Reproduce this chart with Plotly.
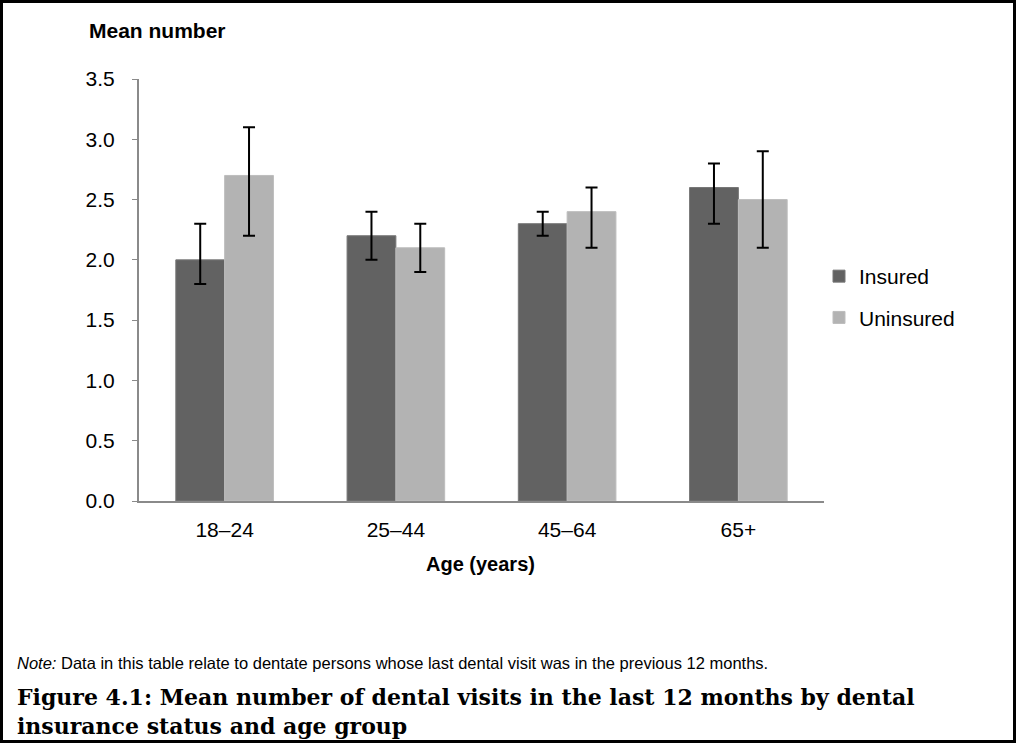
import plotly.graph_objects as go

categories = ["18–24", "25–44", "45–64", "65+"]
insured = [2.0, 2.2, 2.3, 2.6]
insured_plus = [0.3, 0.2, 0.1, 0.2]
insured_minus = [0.2, 0.2, 0.1, 0.3]
uninsured = [2.7, 2.1, 2.4, 2.5]
uninsured_plus = [0.4, 0.2, 0.2, 0.4]
uninsured_minus = [0.5, 0.2, 0.3, 0.4]
y_ticks = [0.0, 0.5, 1.0, 1.5, 2.0, 2.5, 3.0, 3.5]

W, H = 1017, 744
L, R, T, B = 139, 824, 79, 501


def px(x):
    return (x - L) / (R - L)


def py(y):
    return (B - y) / (B - T)


SANS = "Liberation Sans, Arial, sans-serif"

fig = go.Figure()
fig.add_trace(go.Bar(
    x=categories, y=insured, name="Insured", legendgroup="a",
    marker=dict(color="#626262", line=dict(color="#777777", width=1)),
    error_y=dict(type="data", symmetric=False, array=insured_plus,
                 arrayminus=insured_minus, color="black", thickness=2, width=6),
))
fig.add_trace(go.Bar(
    x=categories, y=uninsured, name="Uninsured", legendgroup="b",
    marker=dict(color="#b3b3b3", line=dict(color="#bdbdbd", width=1)),
    error_y=dict(type="data", symmetric=False, array=uninsured_plus,
                 arrayminus=uninsured_minus, color="black", thickness=2, width=6),
))

fig.update_layout(
    width=W, height=H,
    margin=dict(l=L, r=W - R, t=T, b=H - B, autoexpand=False),
    paper_bgcolor="white", plot_bgcolor="white",
    barmode="group", bargap=0.43, bargroupgap=0.0,
    font=dict(family=SANS, color="black", size=21),
    showlegend=True,
    legend=dict(x=px(819), y=py(256), xanchor="left", yanchor="top",
                font=dict(family=SANS, size=21, color="black"),
                traceorder="grouped", tracegroupgap=11, itemwidth=30,
                bgcolor="rgba(0,0,0,0)"),
    xaxis=dict(showline=True, linecolor="#8a8a8a", linewidth=2, ticks="",
               showgrid=False, tickfont=dict(size=21, color="black"),
               zeroline=False, ticklabelstandoff=9),
    yaxis=dict(range=[0, 3.5], tickvals=y_ticks, tickformat=".1f",
               showline=True, linecolor="#8a8a8a", linewidth=2,
               ticks="outside", ticklen=5, tickcolor="#8a8a8a", tickwidth=1,
               showgrid=False, zeroline=False, ticklabelstandoff=13,
               tickfont=dict(size=21, color="black")),
)

annotations = [
    dict(text="<b>Mean number</b>", x=px(157), y=py(30), xanchor="center",
         yanchor="middle", font=dict(size=21, family=SANS)),
    dict(text="<b>Age (years)</b>", x=px(480), y=py(564), xanchor="center",
         yanchor="middle", font=dict(size=20, family=SANS)),
    dict(text="<i>Note:</i> Data in this table relate to dentate persons whose last dental visit was in the previous 12 months.",
         x=px(15), y=py(663), xanchor="left", yanchor="middle",
         font=dict(size=16.5, family=SANS)),
    dict(text="<b>Figure 4.1: Mean number of dental visits in the last 12 months by dental<br>insurance status and age group</b>",
         x=px(15), y=py(711), xanchor="left", yanchor="middle", align="left",
         font=dict(size=22, family="DejaVu Serif, serif")),
]
for a in annotations:
    a.update(xref="paper", yref="paper", showarrow=False)
fig.update_layout(annotations=annotations)

fig.add_shape(type="rect", xref="paper", yref="paper",
              x0=px(1.5), x1=px(W - 2.5), y0=py(1.5), y1=py(H - 2.5),
              line=dict(color="black", width=3), fillcolor="rgba(0,0,0,0)",
              layer="above")

fig.write_html("out.html", config={"displayModeBar": False},
               post_script="document.body.style.margin='0';document.body.style.overflow='hidden';")
